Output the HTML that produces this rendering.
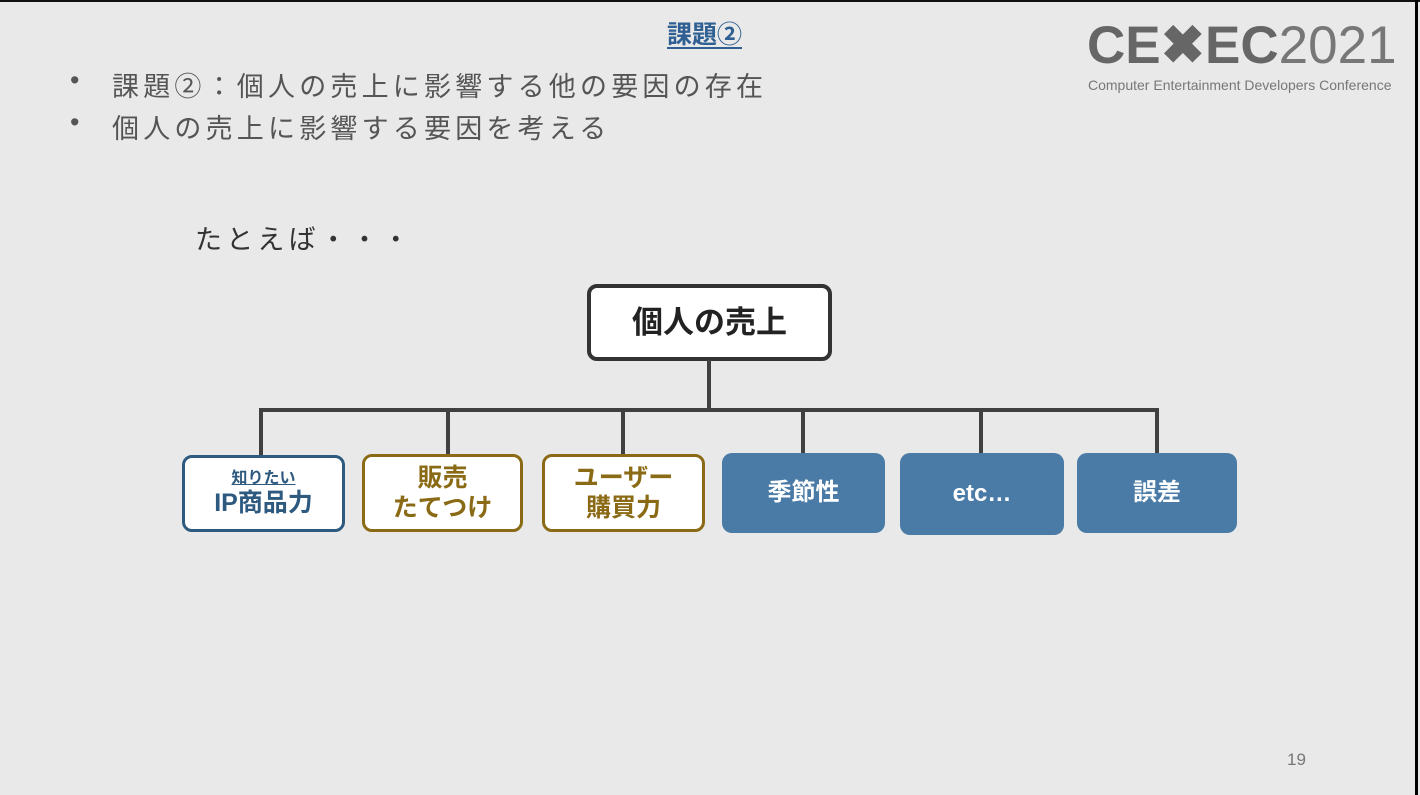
<!DOCTYPE html>
<html><head><meta charset="utf-8"><style>
*{margin:0;padding:0;box-sizing:border-box}
body{width:1420px;height:795px;background:#e8e9e8;position:relative;overflow:hidden;font-family:"Liberation Sans","Noto Sans CJK JP",sans-serif}
.a{position:absolute}
.t{color:#555;font-size:27px;letter-spacing:4.2px;white-space:nowrap}
.box{position:absolute;border-radius:10px;display:flex;flex-direction:column;align-items:center;justify-content:center;font-weight:bold;text-align:center;line-height:1.2}
.ln{position:absolute;background:#404040}
</style></head><body>
<div class="a" style="left:0;top:0;width:1420px;height:2px;background:#111"></div>
<div class="a" style="left:1415px;top:0;width:3px;height:795px;background:#000"></div>
<div class="a" style="left:667px;top:15px;font-size:25px;font-weight:bold;color:#2f5f93;text-decoration:underline;text-underline-offset:4px">課題②</div>
<div class="a" style="left:1087px;top:15px;font-size:53px;color:#666;white-space:nowrap;line-height:62px"><b style="font-weight:900">CE✖EC</b><span style="font-weight:100;color:#777">2021</span></div>
<div class="a" style="left:1088px;top:77px;font-size:14px;color:#777;white-space:nowrap">Computer Entertainment Developers Conference</div>
<div class="a t" style="left:70px;top:65px">•</div>
<div class="a t" style="left:112px;top:65px">課題②：個人の売上に影響する他の要因の存在</div>
<div class="a t" style="left:70px;top:107px">•</div>
<div class="a t" style="left:112px;top:107px">個人の売上に影響する要因を考える</div>
<div class="a t" style="left:195px;top:218px;color:#333">たとえば・・・</div>
<div class="box" style="left:587px;top:284px;width:245px;height:77px;border:4px solid #333;background:#fff;font-size:31px;color:#222">個人の売上</div>
<div class="ln" style="left:707px;top:360px;width:4px;height:52px"></div>
<div class="ln" style="left:259px;top:408px;width:900px;height:4px"></div>
<div class="ln" style="left:259px;top:408px;width:4px;height:48px"></div>
<div class="ln" style="left:446px;top:408px;width:4px;height:48px"></div>
<div class="ln" style="left:621px;top:408px;width:4px;height:48px"></div>
<div class="ln" style="left:801px;top:408px;width:4px;height:48px"></div>
<div class="ln" style="left:979px;top:408px;width:4px;height:48px"></div>
<div class="ln" style="left:1155px;top:408px;width:4px;height:48px"></div>
<div class="box" style="left:182px;top:455px;width:163px;height:77px;border:3px solid #2e5a80;background:#fff;color:#2e5a80"><span style="font-size:16px;text-decoration:underline">知りたい</span><span style="font-size:25px">IP商品力</span></div>
<div class="box" style="left:362px;top:454px;width:161px;height:78px;border:3px solid #8a6a14;background:#fff;color:#8a6a14;font-size:25px">販売<br>たてつけ</div>
<div class="box" style="left:542px;top:454px;width:163px;height:78px;border:3px solid #8a6a14;background:#fff;color:#8a6a14;font-size:25px">ユーザー<br>購買力</div>
<div class="box" style="left:722px;top:453px;width:163px;height:80px;background:#4a7ba6;color:#fff;font-size:24px">季節性</div>
<div class="box" style="left:900px;top:453px;width:164px;height:82px;background:#4a7ba6;color:#fff;font-size:24px">etc…</div>
<div class="box" style="left:1077px;top:453px;width:160px;height:80px;background:#4a7ba6;color:#fff;font-size:24px">誤差</div>
<div class="a" style="left:1287px;top:750px;font-size:17px;color:#777">19</div>
</body></html>
